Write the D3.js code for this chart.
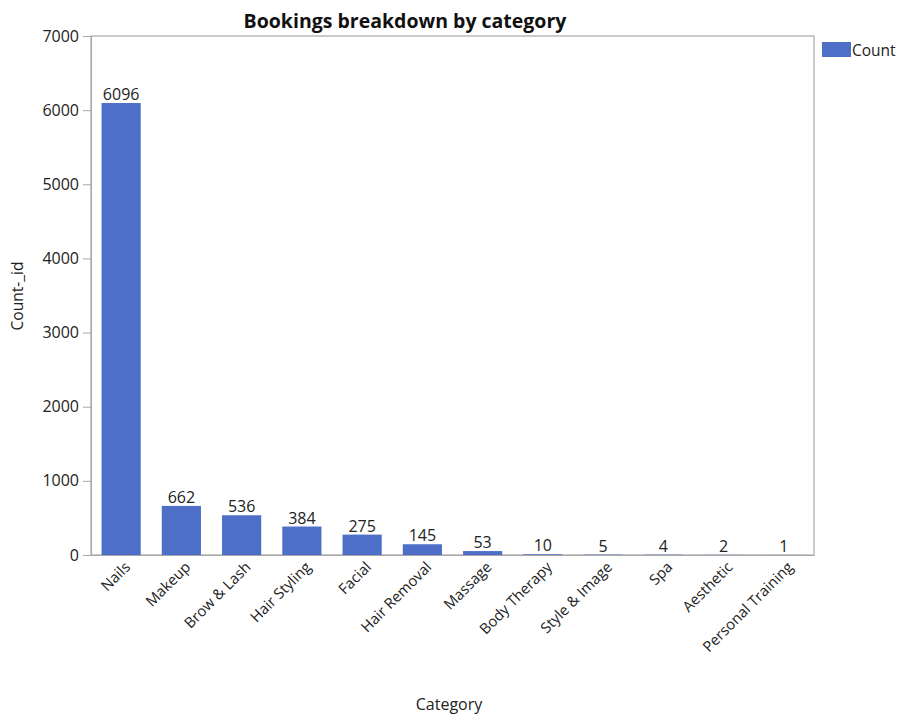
<!DOCTYPE html>
<html><head><meta charset="utf-8">
<script src="https://cdn.jsdelivr.net/npm/d3@7"></script>
<style>body{margin:0;background:#fff;} text{font-family:"Open Sans","Noto Sans",sans-serif;}</style>
</head><body>
<svg id="c" width="901" height="715"></svg>
<script>
const categories = ["Nails","Makeup","Brow & Lash","Hair Styling","Facial","Hair Removal","Massage","Body Therapy","Style & Image","Spa","Aesthetic","Personal Training"];
const counts = [6096,662,536,384,275,145,53,10,5,4,2,1];
const yTicks = [0,1000,2000,3000,4000,5000,6000,7000];
const seriesName = "Count";

const svg = d3.select("#c");
const m = {l:91, r:814, t:36, b:555};
const color = "#4e6fc8";

const x = d3.scaleBand().domain(categories).range([m.l, m.r]).paddingInner(0.35).paddingOuter(0.175);
const y = d3.scaleLinear().domain([0,7000]).range([m.b, m.t]);

// frame
svg.append("rect").attr("x", m.l).attr("y", m.t).attr("width", m.r-m.l).attr("height", m.b-m.t)
  .attr("fill","none").attr("stroke","#a8a8a8").attr("stroke-width",1.2);

// y axis
const ya = svg.append("g").attr("transform",`translate(${m.l},0)`)
  .call(d3.axisLeft(y).tickValues(yTicks).tickSize(8).tickPadding(4).tickFormat(d3.format("d")));
ya.select(".domain").attr("stroke","#a8a8a8");
ya.selectAll(".tick line").attr("stroke","#a8a8a8");
ya.selectAll(".tick text").attr("font-size",16).attr("fill","#222");

// x axis
const xa = svg.append("g").attr("transform",`translate(0,${m.b})`)
  .call(d3.axisBottom(x).tickSize(0).tickPadding(0));
xa.select(".domain").attr("stroke","#a8a8a8");
xa.selectAll(".tick text").attr("font-size",14.8).attr("fill","#222")
  .attr("text-anchor","end").attr("dy",0).attr("y",0)
  .attr("transform","translate(10,13) rotate(-45)");

// bars
svg.append("g").selectAll("rect").data(counts).join("rect")
  .attr("x",(d,i)=>x(categories[i])).attr("width",x.bandwidth())
  .attr("y",d=>y(d)).attr("height",d=>m.b-y(d)).attr("fill",color);

// value labels
svg.append("g").selectAll("text").data(counts).join("text")
  .attr("x",(d,i)=>x(categories[i])+x.bandwidth()/2).attr("y",d=>y(d)-3)
  .attr("text-anchor","middle").attr("font-size",16).attr("fill","#222").text(d=>d);

// title
svg.append("text").attr("x",405).attr("y",28).attr("text-anchor","middle")
  .attr("font-size",19.5).attr("font-weight","bold").attr("fill","#111").text("Bookings breakdown by category");

// axis titles
svg.append("text").attr("transform","translate(23,296) rotate(-90)").attr("text-anchor","middle")
  .attr("font-size",15.5).attr("fill","#222").text("Count-_id");
svg.append("text").attr("x",449).attr("y",710).attr("text-anchor","middle")
  .attr("font-size",16).attr("fill","#222").text("Category");

// legend
svg.append("rect").attr("x",822).attr("y",42).attr("width",29).attr("height",15).attr("fill",color);
svg.append("text").attr("x",852).attr("y",56).attr("font-size",15.5).attr("fill","#222").text(seriesName);
</script>
</body></html>
